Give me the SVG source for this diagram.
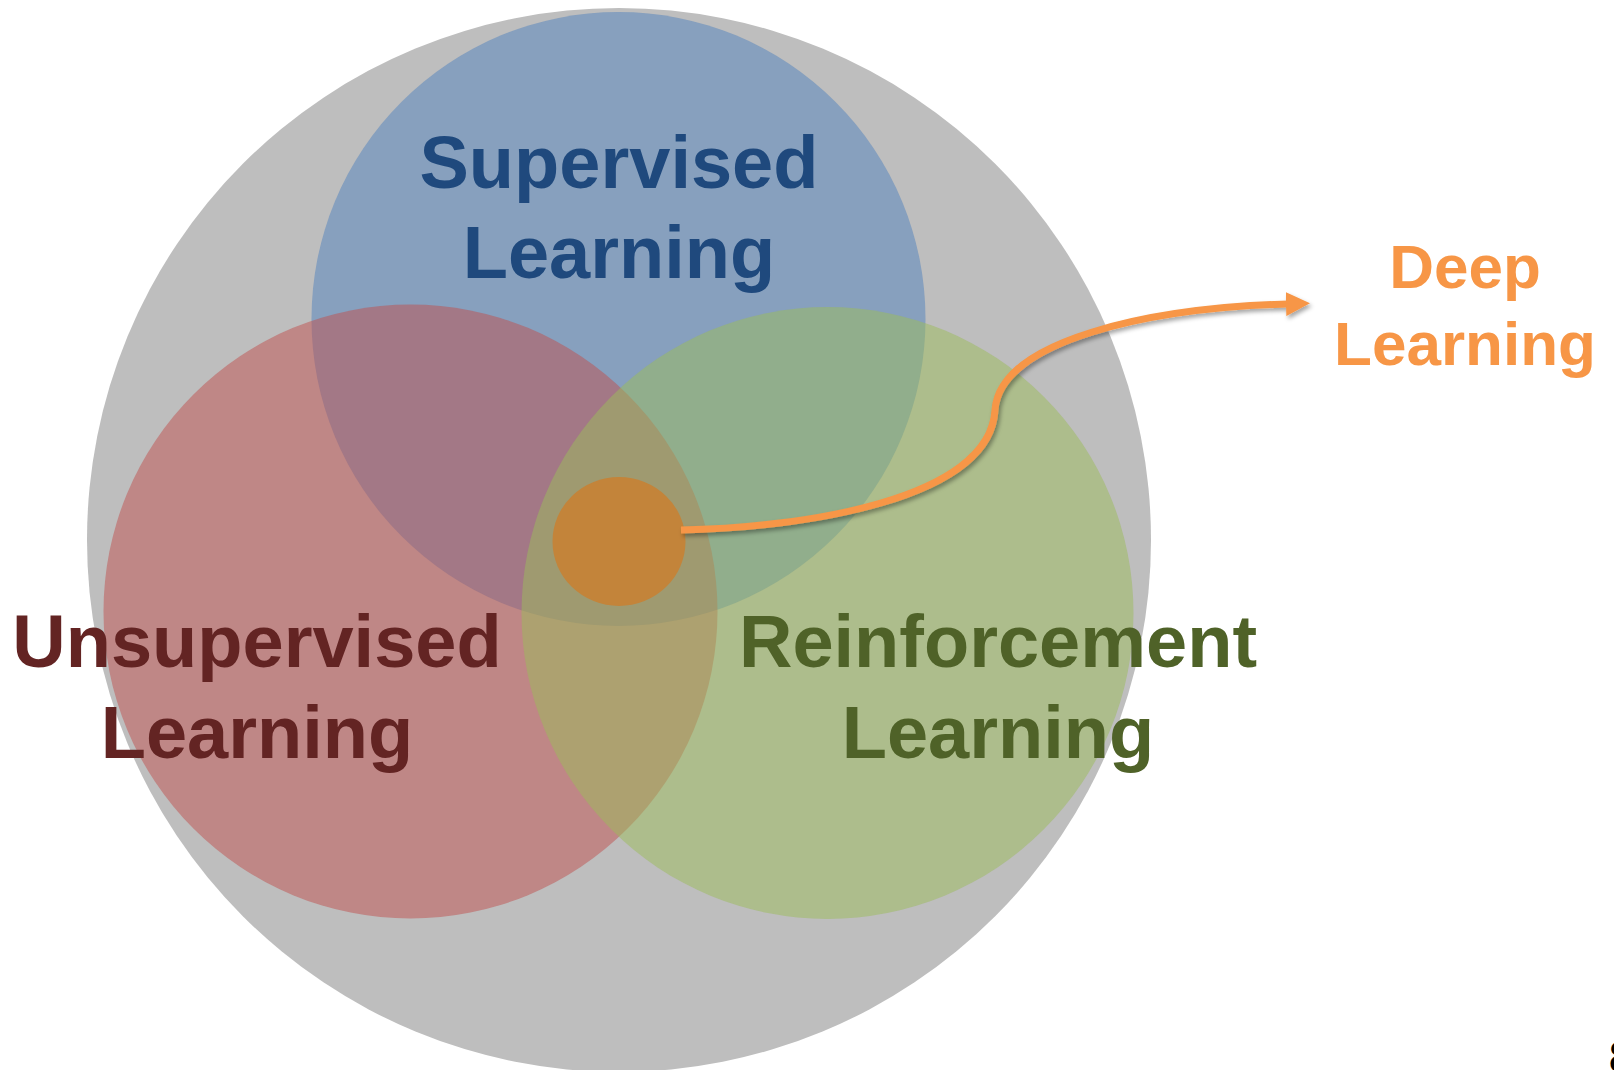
<svg xmlns="http://www.w3.org/2000/svg" width="1614" height="1070" viewBox="0 0 1614 1070">
  <defs>
    <style>
      .lbl { font-family: "Liberation Sans", Arial, sans-serif; font-weight: bold; text-anchor: middle; }
      .big { font-size: 74px; }
      .small { font-size: 62px; }
      .venn { fill-opacity: 0.5; }
    </style>
    <filter id="shadow" x="-10%" y="-20%" width="120%" height="140%">
      <feDropShadow dx="2" dy="3" stdDeviation="2" flood-color="#000000" flood-opacity="0.35"/>
    </filter>
    <marker id="arrow" viewBox="0 0 24 24" refX="2" refY="12" markerWidth="24" markerHeight="24" markerUnits="userSpaceOnUse" orient="auto">
      <path d="M0,0 L24,12 L0,24 Z" fill="#F79646"/>
    </marker>
  </defs>
  <rect width="1614" height="1070" fill="#FFFFFF"/>

  <g id="machine-learning">
    <circle cx="619" cy="540" r="532" fill="#BEBEBE"/>
  </g>

  <g id="supervised">
    <circle class="venn" cx="618.5" cy="319" r="307" fill="#4F81BD"/>
    <text class="lbl big" x="619" y="188" fill="#1F497D">Supervised</text>
    <text class="lbl big" x="619" y="278" fill="#1F497D">Learning</text>
  </g>

  <g id="unsupervised">
    <circle class="venn" cx="410.5" cy="611.5" r="307" fill="#C0504D"/>
    <text class="lbl big" x="257" y="667" fill="#632423">Unsupervised</text>
    <text class="lbl big" x="257" y="758" fill="#632423">Learning</text>
  </g>

  <g id="reinforcement">
    <circle class="venn" cx="827.5" cy="613" r="306" fill="#9BBB59"/>
    <text class="lbl big" x="998" y="667" fill="#4F6228">Reinforcement</text>
    <text class="lbl big" x="998" y="758" fill="#4F6228">Learning</text>
  </g>

  <g id="deep-learning-core">
    <ellipse cx="619" cy="541.5" rx="66.5" ry="64.5" fill="#C3843A"/>
  </g>

  <g id="deep-learning-label">
    <text class="lbl small" x="1465" y="288" fill="#F79646">Deep</text>
    <text class="lbl small" x="1465" y="365" fill="#F79646">Learning</text>
  </g>

  <g id="connectors">
    <path d="M681,530 C800,528 990,500 995,410 C1000,340 1150,308 1288,304" fill="none" stroke="#F79646" stroke-width="7" marker-end="url(#arrow)" filter="url(#shadow)"/>
  </g>

  <text x="1609" y="1073" font-family="Liberation Sans, Arial, sans-serif" font-weight="bold" font-size="46" fill="#000000">8</text>
</svg>
